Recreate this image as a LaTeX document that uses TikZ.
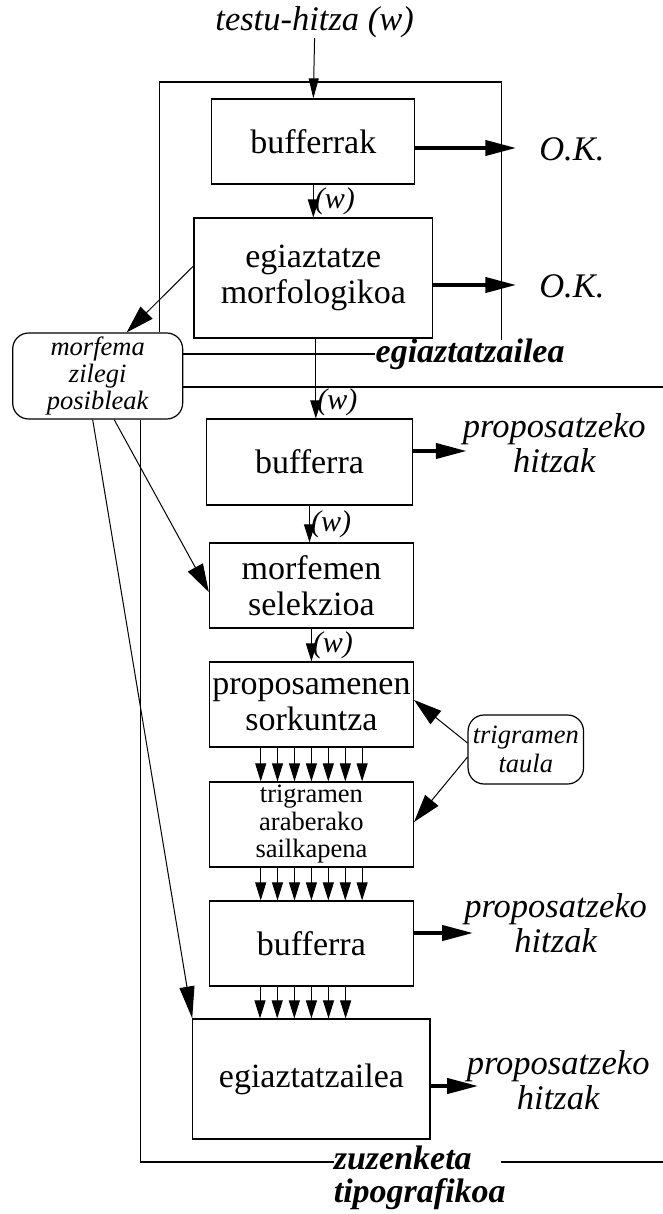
\documentclass[tikz,border=0pt]{standalone}
\usepackage{fontspec}
\setmainfont{Liberation Serif}
\usetikzlibrary{arrows.meta}

\begin{document}
\begin{tikzpicture}[x=1.2685pt,y=-1pt,
  box/.style={draw, line width=1.2pt, inner sep=0pt, align=center,
    font=\fontsize{34}{36}\selectfont},
  smallbox/.style={box, font=\fontsize{26.5}{27.5}\selectfont},
  rbox/.style={draw, line width=1.2pt, rounded corners=16pt, inner sep=0pt,
    align=center, font=\itshape\fontsize{26.5}{27}\selectfont},
  lbl/.style={inner sep=0pt, align=center, font=\itshape\fontsize{34.5}{35}\selectfont},
  framelbl/.style={inner sep=0pt, anchor=west, align=left, font=\bfseries\itshape\fontsize{34}{33}\selectfont},
  wlbl/.style={inner sep=1pt, anchor=west, font=\itshape\fontsize{30}{30}\selectfont},
  frame/.style={line width=1.1pt},
  flow/.style={line width=1pt, -{Triangle[length=18pt,width=11pt]}},
  bigflow/.style={line width=1pt, -{Triangle[length=28pt,width=17pt]}},
  outflow/.style={line width=4pt, -{Triangle[length=31pt,width=15pt]}}
]
\useasboundingbox (0,0) rectangle (522.66,1214);

% input word
\node[lbl] (input) at (248,22) {testu-hitza (w)};

% processing boxes
\node[box, minimum width=203pt, minimum height=85pt] (buf0) at (247,141.5) {bufferrak};
\node[box, minimum width=238.5pt, minimum height=120pt] (morf) at (247,278) {egiaztatze\\morfologikoa};
\node[rbox, minimum width=170pt, minimum height=86pt] (morfema) at (77,376) {morfema\\zilegi\\posibleak};
\node[box, minimum width=205.5pt, minimum height=86pt] (buf1) at (244,462) {bufferra};
\node[box, minimum width=204pt, minimum height=85pt] (sel) at (245.5,585.5) {morfemen\\selekzioa};
\node[box, minimum width=204pt, minimum height=85pt] (gen) at (245.5,704.5) {proposamenen\\sorkuntza};
\node[rbox, minimum width=115.4pt, minimum height=69pt, font=\itshape\fontsize{26.5}{29}\selectfont] (tri) at (414.5,749.5) {trigramen\\taula};
\node[smallbox, minimum width=204pt, minimum height=85pt] (rank) at (245.5,824.5) {trigramen\\araberako\\sailkapena};
\node[box, minimum width=204pt, minimum height=85pt] (buf2) at (245.5,943.5) {bufferra};
\node[box, minimum width=237.2pt, minimum height=120pt] (check) at (245.5,1079) {egiaztatzailea};

% outputs
\node[lbl, anchor=west] (ok1) at (425,149) {O.K.};
\node[lbl, anchor=west] (ok2) at (425,286) {O.K.};
\node[lbl] (prop1) at (437,443.5) {proposatzeko\\hitzak};
\node[lbl] (prop2) at (438,923.5) {proposatzeko\\hitzak};
\node[lbl] (prop3) at (440,1080) {proposatzeko\\hitzak};
\coordinate (ok1tip) at (407,148);
\coordinate (ok2tip) at (407,285);
\coordinate (prop1tip) at (368,451);
\coordinate (prop2tip) at (373,933);
\coordinate (prop3tip) at (377,1086);

\draw[outflow] (buf0.east |- ok1tip) -- (ok1tip);
\draw[outflow] (morf.east |- ok2tip) -- (ok2tip);
\draw[outflow] (buf1.east |- prop1tip) -- (prop1tip);
\draw[outflow] (buf2.east |- prop2tip) -- (prop2tip);
\draw[outflow] (check.east |- prop3tip) -- (prop3tip);

% frame of the checker
\node[framelbl] (eLbl) at (296,354) {egiaztatzailea};
\coordinate (eTL) at (126,82);
\coordinate (eTR) at (395,82);
\coordinate (eBR) at (395,340);
\draw[frame] (morfema.north -| eTL) -- (eTL) -- (eTR) -- (eBR);
\draw[frame] (morfema.east |- eLbl.west) -- (eLbl.west);

% frame of the typographic correction
\node[framelbl] (zLbl) at (263,1177.5) {zuzenketa\\tipografikoa};
\coordinate (zTR) at (522.66,387);
\coordinate (zBL) at (111,1162);
\coordinate (zGap) at (395,1162);
\coordinate (zBR) at (522.66,1162);
\draw[frame] (morfema.east |- zTR) -- (zTR);
\draw[frame] (morfema.south -| zBL) -- (zBL) -- (zBL -| zLbl.west);
\draw[frame] (zGap) -- (zBR);

% main word flow
\draw[flow, -{Triangle[length=20pt,width=10pt]}] (input.south) -- (buf0.north);
\draw[flow] (buf0.south) -- (morf.north)
  node[wlbl, pos=0.5] (w1) {(w)};
\draw[flow] ([xshift=2.5pt]morf.south) -- ([xshift=2.5pt]morf.south |- buf1.north)
  node[wlbl, pos=0.8] (w2) {(w)};
\draw[flow] (buf1.south) -- (buf1.south |- sel.north)
  node[wlbl, pos=0.5] (w3) {(w)};
\draw[flow] (sel.south) -- (gen.north)
  node[wlbl, pos=0.5] (w4) {(w)};

% candidate streams
\foreach \dx in {-50.7,-33.9,-16.9,0,16.9,33.9,50.7}
  \draw[flow] ([xshift=\dx pt]gen.south) -- ([xshift=\dx pt]rank.north);
\foreach \dx in {-50.7,-33.9,-16.9,0,16.9,33.9,50.7}
  \draw[flow] ([xshift=\dx pt]rank.south) -- ([xshift=\dx pt]buf2.north);
\foreach \dx in {-51.4,-34.2,-17.1,0,17.1,34.2}
  \draw[flow] ([xshift=\dx pt]buf2.south) -- ([xshift=\dx pt]check.north);

% morpheme links
\draw[bigflow] ([yshift=12pt]morf.west) -- ([xshift=29pt]morfema.north);
\draw[bigflow] ([xshift=16.5pt]morfema.south) -- ([yshift=-6.5pt]sel.west);
\draw[line width=1pt, -{Triangle[length=32pt,width=15pt]}] ([xshift=-5pt]morfema.south) -- (check.north west);

% trigram table links
\draw[bigflow] ([yshift=6.5pt]tri.west) -- ([yshift=4.5pt]gen.east);
\draw[bigflow] ([yshift=-7.5pt]tri.west) -- ([yshift=2.5pt]rank.east);
\end{tikzpicture}
\end{document}
